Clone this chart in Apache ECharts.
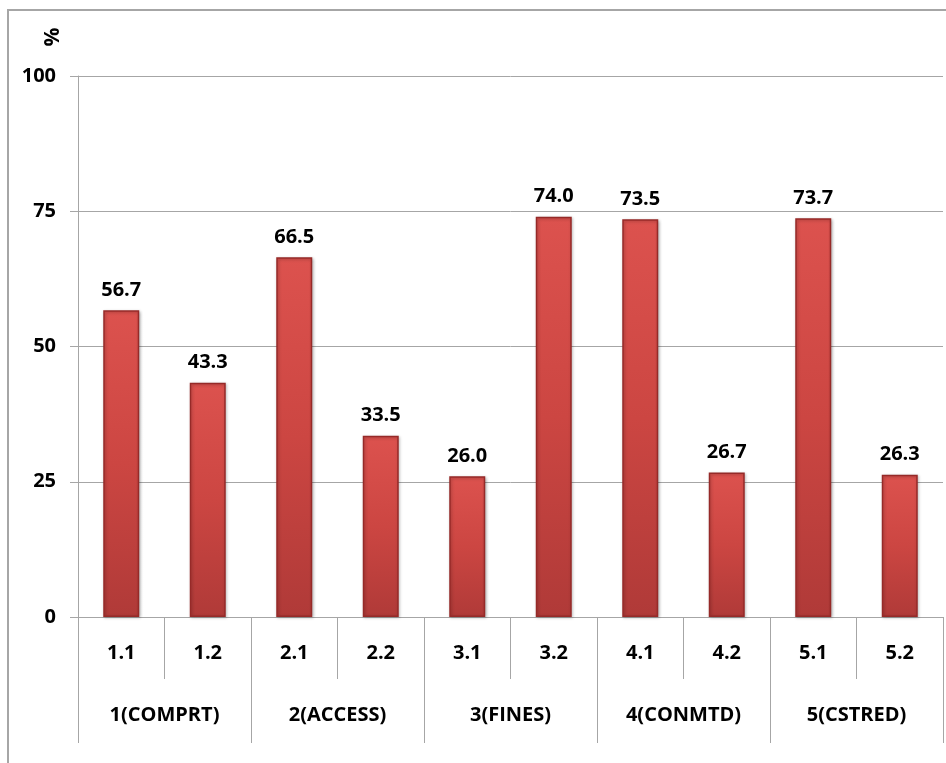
<!DOCTYPE html>
<html>
<head>
<meta charset="utf-8">
<script src="https://cdn.jsdelivr.net/npm/echarts@6/dist/echarts.min.js"></script>
<style>
html,body{margin:0;padding:0;background:#fff;}
#main{width:946px;height:763px;}
</style>
</head>
<body>
<div id="main"></div>
<script>
const subCategories = ['1.1','1.2','2.1','2.2','3.1','3.2','4.1','4.2','5.1','5.2'];
const groupCategories = ['1(COMPRT)','2(ACCESS)','3(FINES)','4(CONMTD)','5(CSTRED)'];
const values = [56.7, 43.3, 66.5, 33.5, 26.0, 74.0, 73.5, 26.7, 73.7, 26.3];
const yTicks = [0, 25, 50, 75, 100];

const FONT = 'Open Sans';
const FS = 20;
const chart = echarts.init(document.getElementById('main'));
chart.setOption({
  animation: false,
  backgroundColor: '#fff',
  grid: {left: 78, right: 3, top: 76, bottom: 146, containLabel: false},
  graphic: [
    {type: 'rect', shape: {x: 8, y: 10, width: 1000, height: 800},
     style: {fill: 'none', stroke: '#a6a6a6', lineWidth: 2}, silent: true},
    {type: 'text', x: 53, y: 37, rotation: Math.PI / 2, originX: 0, originY: 0,
     style: {text: '%', fontFamily: FONT, fontWeight: 'bold', fontSize: 21, fill: '#000',
             align: 'center', verticalAlign: 'middle'}}
  ],
  xAxis: [
    {
      type: 'category', data: subCategories, position: 'bottom',
      axisLine: {show: true, lineStyle: {color: '#a6a6a6', width: 1}},
      axisTick: {show: true, length: 62, lineStyle: {color: '#a6a6a6'}},
      axisLabel: {margin: 26, color: '#000', fontFamily: FONT, fontWeight: 'bold', fontSize: FS},
      splitLine: {show: false}
    },
    {
      type: 'category', data: groupCategories, position: 'bottom',
      axisLine: {show: false},
      axisTick: {show: true, length: 126, lineStyle: {color: '#a6a6a6'}},
      axisLabel: {margin: 88, color: '#000', fontFamily: FONT, fontWeight: 'bold', fontSize: FS},
      splitLine: {show: false}
    }
  ],
  yAxis: {
    type: 'value', min: yTicks[0], max: yTicks[yTicks.length - 1], interval: 25,
    axisLine: {show: true, lineStyle: {color: '#a6a6a6'}},
    axisTick: {show: true, length: 8, lineStyle: {color: '#a6a6a6'}},
    axisLabel: {margin: 22, color: '#000', fontFamily: FONT, fontWeight: 'bold', fontSize: FS},
    splitLine: {show: true, lineStyle: {color: '#a6a6a6', width: 1}}
  },
  series: [{
    type: 'bar', xAxisIndex: 0, data: values, barWidth: 36,
    itemStyle: {
      color: new echarts.graphic.LinearGradient(0, 0, 0, 1, [
        {offset: 0, color: '#dc524e'},
        {offset: 0.5, color: '#cc4642'},
        {offset: 1, color: '#b03a38'}
      ]),
      borderColor: '#962a28', borderWidth: 1.5,
      shadowColor: 'rgba(0,0,0,0.25)', shadowBlur: 3, shadowOffsetX: 1, shadowOffsetY: 1
    },
    label: {
      show: true, position: 'top', distance: 10,
      formatter: p => p.value.toFixed(1),
      color: '#000', fontFamily: FONT, fontWeight: 'bold', fontSize: FS
    }
  }]
});
</script>
</body>
</html>
